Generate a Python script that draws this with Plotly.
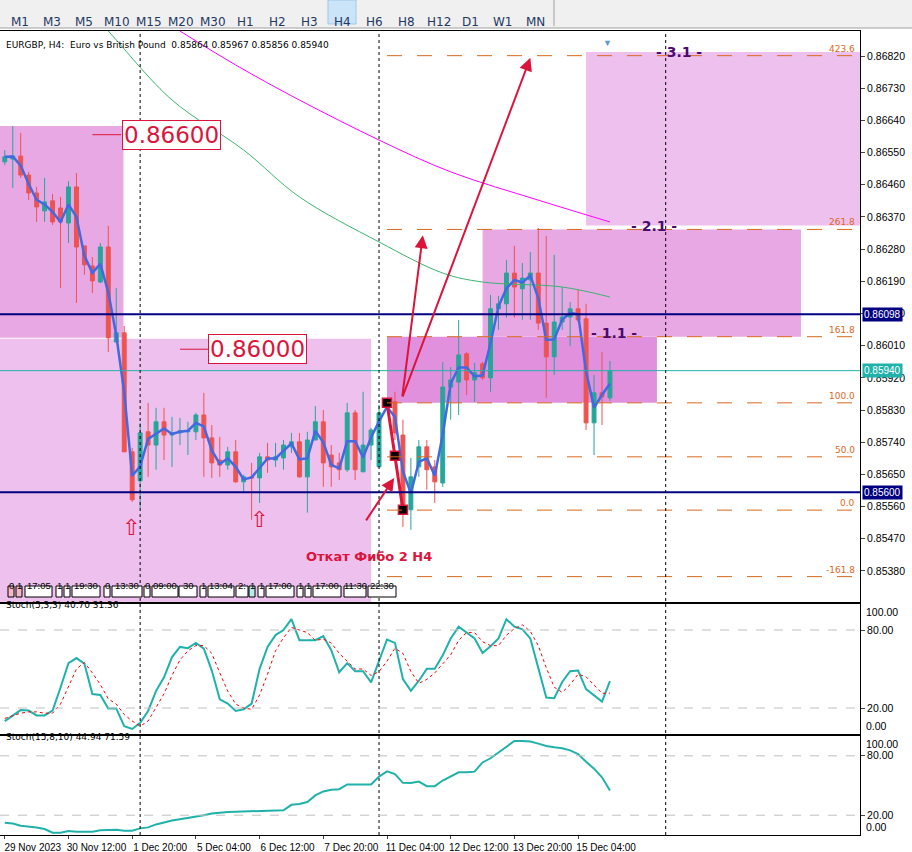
import plotly.graph_objects as go
import pandas as pd

W, H = 912, 852

# ---- data (H4 bars, index 0 = 29 Nov 2023 04:00) ----
opens = [0.86524, 0.86532, 0.86540, 0.86487, 0.86437, 0.86387, 0.86415, 0.86395, 0.86353, 0.86454,
         0.86289, 0.86233, 0.86188, 0.86286, 0.86020, 0.86046, 0.85713, 0.85632, 0.85769, 0.85732,
         0.85797, 0.85760, 0.85766, 0.85769, 0.85769, 0.85816, 0.85752, 0.85690, 0.85676, 0.85713,
         0.85629, 0.85643, 0.85640, 0.85699, 0.85690, 0.85696, 0.85727, 0.85741, 0.85643, 0.85746,
         0.85797, 0.85704, 0.85682, 0.85663, 0.85822, 0.85657, 0.85732, 0.85671, 0.85844, 0.85853,
         0.85760, 0.85551, 0.85671, 0.85727, 0.85671, 0.85626, 0.85894, 0.85908, 0.85987, 0.85914,
         0.85959, 0.85920, 0.86113, 0.86127, 0.86213, 0.86169, 0.86194, 0.86213, 0.86073, 0.85979,
         0.86076, 0.86090, 0.86113, 0.86085, 0.85794, 0.85878, 0.85864]
highs = [0.86557, 0.86624, 0.86605, 0.86496, 0.86454, 0.86479, 0.86434, 0.86426, 0.86470, 0.86493,
         0.86289, 0.86258, 0.86297, 0.86345, 0.86171, 0.86065, 0.85724, 0.85794, 0.85850, 0.85836,
         0.85836, 0.85811, 0.85808, 0.85797, 0.85822, 0.85878, 0.85788, 0.85755, 0.85727, 0.85746,
         0.85649, 0.85682, 0.85710, 0.85738, 0.85738, 0.85746, 0.85766, 0.85766, 0.85769, 0.85841,
         0.85830, 0.85732, 0.85710, 0.85850, 0.85830, 0.85881, 0.85780, 0.85844, 0.85864, 0.85881,
         0.85803, 0.85696, 0.85746, 0.85746, 0.85690, 0.85964, 0.85950, 0.86082, 0.85992, 0.85962,
         0.85964, 0.86152, 0.86149, 0.86250, 0.86289, 0.86241, 0.86272, 0.86339, 0.86317, 0.86264,
         0.86174, 0.86132, 0.86166, 0.86127, 0.85928, 0.85992, 0.85967]
lows = [0.86515, 0.86451, 0.86479, 0.86417, 0.86356, 0.86356, 0.86348, 0.86171, 0.86297, 0.86129,
        0.86208, 0.86157, 0.86185, 0.85992, 0.86020, 0.85713, 0.85573, 0.85556, 0.85643, 0.85663,
        0.85690, 0.85671, 0.85732, 0.85704, 0.85746, 0.85643, 0.85640, 0.85643, 0.85663, 0.85626,
        0.85601, 0.85523, 0.85570, 0.85654, 0.85671, 0.85663, 0.85710, 0.85640, 0.85543, 0.85746,
        0.85615, 0.85615, 0.85634, 0.85657, 0.85634, 0.85657, 0.85690, 0.85671, 0.85836, 0.85746,
        0.85503, 0.85495, 0.85643, 0.85607, 0.85570, 0.85615, 0.85803, 0.85816, 0.85872, 0.85853,
        0.85914, 0.85881, 0.86054, 0.86088, 0.86088, 0.86082, 0.86082, 0.86054, 0.85864, 0.85928,
        0.86054, 0.86009, 0.86076, 0.85774, 0.85704, 0.85788, 0.85856]
closes = [0.86538, 0.86540, 0.86487, 0.86437, 0.86398, 0.86412, 0.86356, 0.86356, 0.86454, 0.86286,
          0.86236, 0.86191, 0.86286, 0.86032, 0.86046, 0.85713, 0.85579, 0.85766, 0.85732, 0.85797,
          0.85760, 0.85766, 0.85772, 0.85772, 0.85816, 0.85752, 0.85682, 0.85676, 0.85713, 0.85629,
          0.85643, 0.85640, 0.85699, 0.85690, 0.85699, 0.85732, 0.85741, 0.85643, 0.85746, 0.85797,
          0.85682, 0.85671, 0.85663, 0.85822, 0.85663, 0.85732, 0.85774, 0.85822, 0.85855, 0.85766,
          0.85551, 0.85643, 0.85727, 0.85663, 0.85629, 0.85894, 0.85914, 0.85984, 0.85914, 0.85934,
          0.85920, 0.86113, 0.86127, 0.86213, 0.86174, 0.86199, 0.86213, 0.86073, 0.85979, 0.86076,
          0.86090, 0.86113, 0.86082, 0.85794, 0.85878, 0.85867, 0.85940]

ma_green_idx = [13, 14, 21, 30, 37, 47, 55, 60, 70, 76]
ma_green = [0.86890, 0.86865, 0.86697, 0.86557, 0.86426, 0.86300, 0.86213, 0.86188, 0.86174, 0.86146]
ma_mag_idx = [22, 29, 37, 47, 56, 67, 76]
ma_mag = [0.86890, 0.86795, 0.86697, 0.86585, 0.86496, 0.86417, 0.86356]

stoch_main = [9.9, 14, 18.4, 18, 14.3, 14.3, 18, 35.8, 54.5, 58.4, 54, 30.7, 30, 19.7, 19.7, 6, 3.9, 8.6,
              17.7, 33.2, 43.6, 59.2, 67, 66, 70.1, 65.7, 48.8, 26.7, 23.4, 17.7, 19, 23.4, 50.1, 67,
              76.1, 80, 88.3, 72.2, 72.2, 72.2, 75.3, 64.4, 47.5, 54.5, 48.3, 48.3, 39.7, 56.6, 72.7,
              70.1, 42.3, 33.2, 41, 50.1, 50.1, 60.5, 73.5, 82.6, 77.9, 73.5, 62.3, 67.5, 73.5, 88.3,
              82.6, 80.5, 73.5, 51.4, 28, 27.5, 40, 48.3, 48.8, 34.5, 30, 24.9, 40.7]
stoch_signal = [12, 14, 16, 17, 17, 16, 16, 23, 36, 50, 55, 47, 38, 27, 23, 15, 10, 6, 10, 20, 31, 45,
                57, 64, 68, 68, 62, 47, 33, 23, 20, 19, 30, 46, 64, 74, 82, 80, 78, 72, 73, 70, 62, 56,
                50, 50, 45, 48, 56, 66, 62, 48, 39, 42, 47, 54, 61, 72, 78, 78, 71, 68, 68, 76, 81, 84,
                79, 68, 51, 36, 32, 38, 46, 44, 38, 31.36, 31.36]
stoch_slow = [12.3, 11.5, 9.3, 8.5, 7.5, 6, 2.3, 2.3, 4, 3.3, 3.3, 3.3, 4.7, 5.3, 5.3, 4.3, 4.3, 6.7,
              7.7, 10.7, 13, 14.7, 16, 17.3, 18.3, 20, 21.7, 22.7, 23.3, 23.5, 23.7, 24, 24, 24.3,
              24.5, 25, 30.5, 31.3, 33.3, 40, 44, 45.7, 46.3, 51, 51, 51, 51, 59, 64.3, 61.5, 52.7,
              52.5, 54, 49.3, 49.3, 55, 59, 63.3, 63.5, 64, 73.3, 77.5, 83.3, 89, 95, 95, 94.5, 92.3,
              90, 88.7, 87.7, 85.5, 81.7, 74, 67, 58.3, 44.94]

tick_idx = [0, 8, 16, 24, 32, 40, 48, 56, 64, 72]
tick_text = ["29 Nov 2023", "30 Nov 12:00", "1 Dec 20:00", "5 Dec 04:00", "6 Dec 12:00",
             "7 Dec 20:00", "11 Dec 04:00", "12 Dec 12:00", "13 Dec 20:00", "15 Dec 04:00"]

price_ticks = ["0.86820", "0.86730", "0.86640", "0.86550", "0.86460", "0.86370", "0.86280", "0.86190",
               "0.86100", "0.86010", "0.85920", "0.85830", "0.85740", "0.85650", "0.85560", "0.85470",
               "0.85380"]
stoch_ticks = [20, 80]
stoch_edge = [0, 100]

fib_names = ["423.6", "261.8", "161.8", "100.0", "50.0", "0.0", "-161.8"]
fib_prices = [0.86821, 0.86335, 0.86035, 0.85850, 0.85699, 0.85550, 0.85364]

zones = [  # x0 bar, x1 bar, price0, price1, colour
    (-0.6, 14.9, 0.86624, 0.86032, "#E8A8E4"),
    (-0.6, 46.0, 0.86029, 0.85290, "#EEC0EE"),
    (48.0, 81.9, 0.86035, 0.85850, "#E090DC"),
    (60.0, 100.0, 0.86335, 0.86035, "#E8A8E4"),
    (73.0, 107.5, 0.86831, 0.86346, "#EEC0EE"),
]

timeframes = ["M1", "M3", "M5", "M10", "M15", "M20", "M30", "H1", "H2", "H3", "H4",
              "H6", "H8", "H12", "D1", "W1", "MN"]

x_idx = list(range(len(closes)))
blue_line = pd.Series(closes).rolling(2, min_periods=1).mean().tolist()

CRIMSON = "#DC143C"
FIBC = "#D9691E"
TEAL = "#26A69A"
FONT = "DejaVu Sans"
AXF = "Liberation Sans"


def px(x):
    return x / W


def py(y):
    return 1 - y / H


fig = go.Figure()

fig.add_trace(go.Candlestick(
    x=x_idx, open=opens, high=highs, low=lows, close=closes,
    increasing=dict(line=dict(color=TEAL, width=1), fillcolor=TEAL),
    decreasing=dict(line=dict(color="#EF5350", width=1), fillcolor="#EF5350"),
    whiskerwidth=0, showlegend=False, xaxis="x", yaxis="y"))
fig.add_trace(go.Scatter(x=ma_green_idx, y=ma_green, mode="lines", line=dict(color="#3CB371", width=1, shape="spline"),
                         showlegend=False, xaxis="x", yaxis="y"))
fig.add_trace(go.Scatter(x=ma_mag_idx, y=ma_mag, mode="lines", line=dict(color="#FF00FF", width=1, shape="spline"),
                         showlegend=False, xaxis="x", yaxis="y"))
fig.add_trace(go.Scatter(x=x_idx, y=blue_line, mode="lines", line=dict(color="#4169E1", width=2.5),
                         showlegend=False, xaxis="x", yaxis="y"))
# zigzag
fig.add_trace(go.Scatter(x=[48, 49, 50], y=[0.85850, 0.85702, 0.85551], mode="lines+markers",
                         line=dict(color=CRIMSON, width=3),
                         marker=dict(symbol="square", size=9, color="black", line=dict(color=CRIMSON, width=1.5)),
                         showlegend=False, xaxis="x", yaxis="y"))

fig.add_trace(go.Scatter(x=x_idx, y=stoch_main, mode="lines", line=dict(color="#20B2AA", width=2),
                         showlegend=False, xaxis="x2", yaxis="y2"))
fig.add_trace(go.Scatter(x=x_idx, y=stoch_signal, mode="lines", line=dict(color="red", width=1, dash="dot"),
                         showlegend=False, xaxis="x2", yaxis="y2"))
fig.add_trace(go.Scatter(x=x_idx, y=stoch_slow, mode="lines", line=dict(color="#20B2AA", width=2),
                         showlegend=False, xaxis="x3", yaxis="y3"))

shapes = []
ann = []

# toolbar
shapes.append(dict(type="rect", xref="paper", yref="paper", x0=0, x1=1, y0=py(28), y1=1,
                   fillcolor="#F0F0F0", line=dict(width=0), layer="below"))
shapes.append(dict(type="line", xref="paper", yref="paper", x0=0, x1=1, y0=py(28), y1=py(28),
                   line=dict(color="#A0A0A0", width=1)))
shapes.append(dict(type="line", xref="paper", yref="paper", x0=px(554), x1=px(554), y0=py(26), y1=1,
                   line=dict(color="#A0A0A0", width=1)))
for k, tf in enumerate(timeframes):
    cx = 20 + k * 32.2
    if tf == "H4":
        shapes.append(dict(type="rect", xref="paper", yref="paper", x0=px(cx - 14), x1=px(cx + 14),
                           y0=py(24), y1=py(0), fillcolor="#CCE4F7", line=dict(color="#99C9EF", width=1)))
    ann.append(dict(x=px(cx), y=py(13), xref="paper", yref="paper", text=tf, showarrow=False,
                    xanchor="center", font=dict(family=FONT, size=12, color="#1F3864")))

# zones
for x0, x1, p0, p1, col in zones:
    shapes.append(dict(type="rect", xref="x", yref="y", x0=x0, x1=x1, y0=p1, y1=p0,
                       fillcolor=col, line=dict(width=0), layer="below"))

# fibo levels
for name, p in zip(fib_names, fib_prices):
    shapes.append(dict(type="line", xref="x", yref="y", x0=48, x1=107.5, y0=p, y1=p,
                       line=dict(color=FIBC, width=1, dash="longdash")))
    ann.append(dict(x=px(857), y=p, xref="paper", yref="y", text=name, showarrow=False,
                    xanchor="right", yanchor="bottom", font=dict(family=FONT, size=9, color=FIBC)))

# horizontal levels
for p, col, w in [(0.86098, "#000080", 2), (0.85600, "#000080", 2), (0.85940, "#20B2AA", 1)]:
    shapes.append(dict(type="line", xref="paper", yref="y", x0=0, x1=px(860), y0=p, y1=p,
                       line=dict(color=col, width=w)))
    ann.append(dict(x=px(862), y=p, xref="paper", yref="y", text=f"{p:.5f}", showarrow=False,
                    xanchor="left", bgcolor=col, font=dict(family=AXF, size=10, color="white"),
                    borderpad=1))

# dotted verticals
for b in [17, 47, 83]:
    shapes.append(dict(type="line", xref="x", yref="paper", x0=b, x1=b, y0=py(835), y1=py(31),
                       line=dict(color="black", width=1, dash="dot")))

# stoch levels and edge labels
for yr in ["y2", "y3"]:
    for lv in stoch_ticks:
        shapes.append(dict(type="line", xref="paper", yref=yr, x0=0, x1=px(860), y0=lv, y1=lv,
                           line=dict(color="#C0C0C0", width=1, dash="dash")))
    for lv in stoch_edge:
        ann.append(dict(x=px(864), y=lv, xref="paper", yref=yr, text=f"{lv:.2f}", showarrow=False,
                        xanchor="left", yanchor="bottom" if lv == 0 else "top",
                        font=dict(family=AXF, size=10.5, color="black")))

# price boxes
for txt, bx, p, lx0, lx1 in [("0.86600", 20.9, 0.86600, 11, 14.6), ("0.86000", 31.75, 0.86000, 22, 25.6)]:
    shapes.append(dict(type="line", xref="x", yref="y", x0=lx0, x1=lx1, y0=p, y1=p,
                       line=dict(color=CRIMSON, width=1)))
    ann.append(dict(x=bx, y=p, xref="x", yref="y", text=txt, showarrow=False, bgcolor="white",
                    bordercolor=CRIMSON, borderwidth=1, borderpad=1,
                    font=dict(family=FONT, size=23, color=CRIMSON)))

# arrows
for hx, hy, tx, ty in [(52.5, 0.86319, 49.9, 0.85864), (66, 0.86815, 49.9, 0.85864),
                       (48.9, 0.85640, 45.25, 0.85517)]:
    ann.append(dict(x=hx, y=hy, ax=tx, ay=ty, xref="x", yref="y", axref="x", ayref="y", text="",
                    showarrow=True, arrowhead=2, arrowsize=1.3, arrowwidth=2, arrowcolor=CRIMSON))
ann.append(dict(x=45.75, y=0.85419, xref="x", yref="y", text="<b>Откат Фибо 2 H4</b>", showarrow=False,
                font=dict(family=FONT, size=13, color=CRIMSON)))
for b, p in [(16, 0.85501), (32, 0.85523)]:
    ann.append(dict(x=b - 0.1, y=p, xref="x", yref="y", text="⇧", showarrow=False,
                    font=dict(family=FONT, size=22, color=CRIMSON)))
for txt, bx, p in [("- 3.1 -", 84.7, 0.86830), ("- 2.1 -", 81.5, 0.86346), ("- 1.1 -", 76.5, 0.86046)]:
    ann.append(dict(x=bx, y=p, xref="x", yref="y", text=f"<b>{txt}</b>", showarrow=False,
                    font=dict(family=FONT, size=14, color="#4B0A6E")))
ann.append(dict(x=px(607), y=py(34), xref="paper", yref="paper", text="▼", showarrow=False,
                xanchor="center", font=dict(size=9, color="#5B9BD5")))

# time label row
row = [("0", 8, 14, "#F4B8C8"), ("1", 16, 22, "#F4B8C8"), ("17:05", 25, 52, "white"), ("1", 56, 62, "white"),
       ("1", 64, 70, "white"), ("19:30", 72, 100, "white"), ("0", 104, 110, "white"), ("13:30", 112, 142, "white"),
       ("0", 144, 150, "white"), ("09:00", 152, 178, "white"), ("30", 179, 197, "white"), ("1", 200, 206, "white"),
       ("13:04", 208, 234, "white"), ("2:", 236, 248, "white"), ("1", 249, 255, "#B8ECEC"), ("1", 258, 264, "white"),
       ("17:00", 266, 294, "white"), ("1", 297, 303, "white"), ("1", 305, 311, "white"), ("17:00", 313, 341, "white"),
       ("11:30", 344, 366, "white"), ("22:30", 368, 396, "white")]
for txt, a, b, bg in row:
    shapes.append(dict(type="rect", xref="paper", yref="paper", x0=px(a), x1=px(b), y0=py(597), y1=py(586),
                       fillcolor=bg, line=dict(color="black", width=1)))
    ann.append(dict(x=px((a + b) / 2), y=py(591.5), xref="paper", yref="paper", text=txt, showarrow=False,
                    xanchor="center", font=dict(family=AXF, size=9.5, color="black"), borderpad=0))

# pane captions
for txt, yy in [("EURGBP, H4:  Euro vs British Pound  0.85864 0.85967 0.85856 0.85940", 38),
                ("Stoch(5,3,3) 40.70 31.36", 612), ("Stoch(15,8,10) 44.94 71.59", 744)]:
    ann.append(dict(x=px(4), y=py(yy), xref="paper", yref="paper", text=txt, showarrow=False,
                    xanchor="left", font=dict(family=FONT, size=9, color="black")))

xr = [-0.6, 107.4]
xdom = [0, px(860)]
axline = dict(showline=True, linecolor="black", linewidth=1, mirror=True, showgrid=False, zeroline=False,
              automargin=False)
tickf = dict(family=AXF, size=10.5, color="black")

fig.update_layout(
    width=W, height=H, margin=dict(l=0, r=0, t=0, b=0, autoexpand=False),
    paper_bgcolor="white", plot_bgcolor="white",
    shapes=shapes, annotations=ann,
    xaxis=dict(domain=xdom, range=xr, anchor="y", showticklabels=False, rangeslider=dict(visible=False), **axline),
    xaxis2=dict(domain=xdom, range=xr, anchor="y2", matches="x", showticklabels=False, **axline),
    xaxis3=dict(domain=xdom, range=xr, anchor="y3", matches="x", tickvals=tick_idx, ticktext=tick_text,
                tickangle=0, ticklabelshift=28, ticklabelstandoff=0, ticks="outside", ticklen=3,
                tickfont=dict(family=AXF, size=10, color="black"), **axline),
    yaxis=dict(domain=[py(602), py(31)], range=[0.85293, 0.86890], anchor="x", side="right",
               tickvals=[float(t) for t in price_ticks], ticktext=price_ticks,
               ticks="outside", ticklen=4, tickfont=tickf, **axline),
    yaxis2=dict(domain=[py(734), py(604)], range=[0, 100], anchor="x2", side="right",
                tickvals=stoch_ticks, ticktext=[f"{v:.2f}" for v in stoch_ticks],
                ticks="outside", ticklen=4, tickfont=tickf, **axline),
    yaxis3=dict(domain=[py(835), py(736)], range=[0, 100], anchor="x3", side="right",
                tickvals=stoch_ticks, ticktext=[f"{v:.2f}" for v in stoch_ticks],
                ticks="outside", ticklen=4, tickfont=tickf, **axline),
)

fig.write_html("out.html", config={"displayModeBar": False},
               post_script="document.body.style.margin='0';document.body.style.overflow='hidden';")
